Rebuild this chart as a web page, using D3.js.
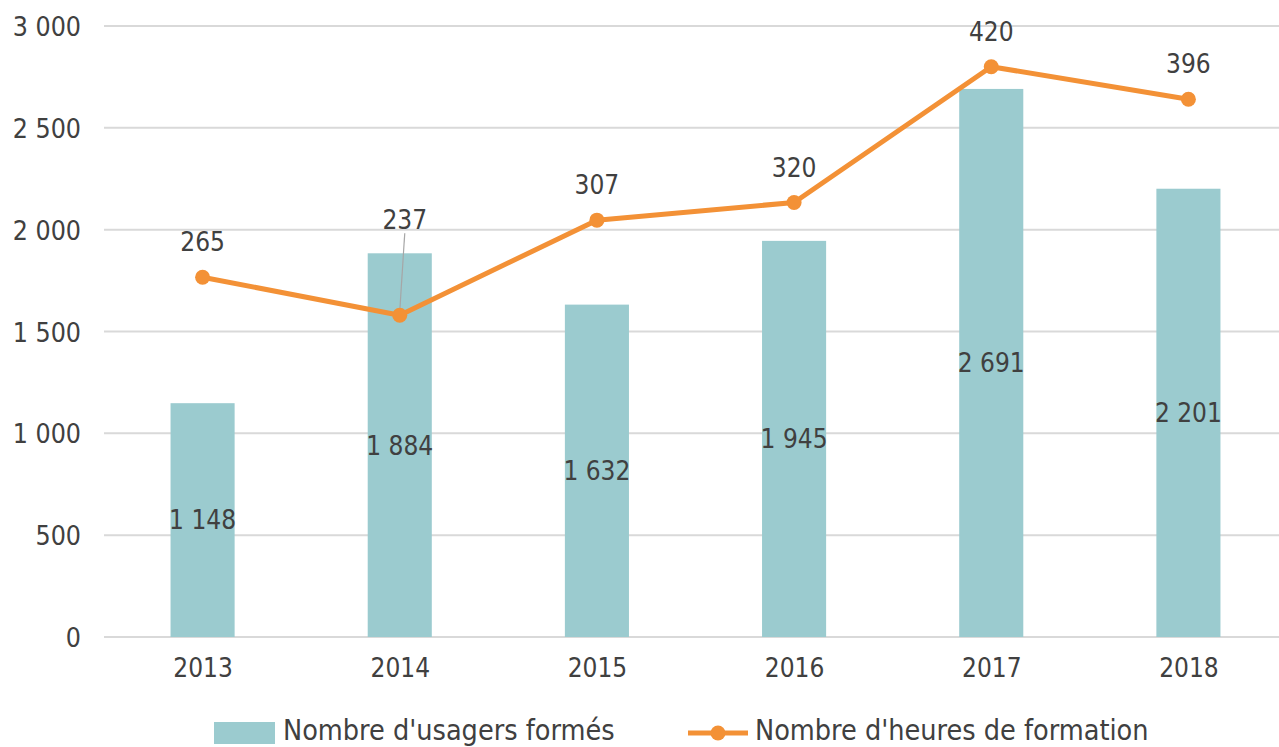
<!DOCTYPE html>
<html>
<head>
<meta charset="utf-8">
<script src="https://cdn.jsdelivr.net/npm/d3@7"></script>
<style>
  html, body { margin: 0; padding: 0; background: #fff; }
  svg { display: block; font-family: "DejaVu Sans Condensed", "DejaVu Sans", sans-serif; }
</style>
</head>
<body>
<svg id="chart" width="1279" height="747"></svg>
<script>
const years = ["2013", "2014", "2015", "2016", "2017", "2018"];
const users = [1148, 1884, 1632, 1945, 2691, 2201];
const hours = [265, 237, 307, 320, 420, 396];
const leftTicks = [0, 500, 1000, 1500, 2000, 2500, 3000];
const seriesNames = ["Nombre d'usagers formés", "Nombre d'heures de formation"];

const svg = d3.select("#chart");
const W = 1279, H = 747;
const textColor = "#404040";
const barColor = "#9bcbcf";
const lineColor = "#f39136";
const gridColor = "#d9d9d9";

const x = d3.scalePoint().domain(years).range([104, 1287]).padding(0.5);
const step = x.step();
const barW = step * 0.325;
const y = d3.scaleLinear().domain([0, 3000]).range([637, 26]);
const y2 = d3.scaleLinear().domain([0, 450]).range([637, 26]);

const fmtSp = v => d3.format(",")(v).replace(/,/g, " ");

// gridlines
const grid = svg.append("g").attr("class", "grid");
grid.selectAll("line").data(leftTicks).join("line")
  .attr("x1", 104).attr("x2", W)
  .attr("y1", d => y(d)).attr("y2", d => y(d))
  .attr("stroke", gridColor).attr("stroke-width", 2);

// y axis labels
const yAxis = d3.axisLeft(y).tickValues(leftTicks).tickSize(0).tickPadding(0).tickFormat(fmtSp);
const yg = svg.append("g").attr("transform", "translate(81,0)").call(yAxis);
yg.select(".domain").remove();
yg.selectAll("text").attr("fill", textColor).style("font-size", "26.5px")
  .style("font-family", "'DejaVu Sans Condensed', 'DejaVu Sans', sans-serif").attr("dy", "0.36em");

// x axis labels
const xAxis = d3.axisBottom(x).tickSize(0).tickPadding(0);
const xg = svg.append("g").attr("transform", "translate(0,659)").call(xAxis);
xg.select(".domain").remove();
xg.selectAll("text").attr("fill", textColor).style("font-size", "26px")
  .style("font-family", "'DejaVu Sans Condensed', 'DejaVu Sans', sans-serif").attr("dy", "0.71em");

// bars
const data = years.map((yr, i) => ({ yr, u: users[i], h: hours[i] }));
svg.append("g").selectAll("rect").data(data).join("rect")
  .attr("x", d => x(d.yr) - barW / 2)
  .attr("width", barW)
  .attr("y", d => y(d.u))
  .attr("height", d => y(0) - y(d.u))
  .attr("fill", barColor);

// bar labels (centered)
svg.append("g").selectAll("text").data(data).join("text")
  .attr("x", d => x(d.yr))
  .attr("y", d => (y(d.u) + y(0)) / 2)
  .attr("dy", "0.36em")
  .attr("text-anchor", "middle")
  .attr("fill", textColor)
  .style("font-size", "26px")
  .text(d => fmtSp(d.u));

// leader line for 2014
const d14 = data[1];
svg.append("line")
  .attr("x1", x(d14.yr) + 5).attr("y1", y2(d14.h) - 82)
  .attr("x2", x(d14.yr)).attr("y2", y2(d14.h) - 4)
  .attr("stroke", "#a6a6a6").attr("stroke-width", 1.2);

// line
const line = d3.line().x(d => x(d.yr)).y(d => y2(d.h));
svg.append("path").datum(data)
  .attr("d", line)
  .attr("fill", "none")
  .attr("stroke", lineColor)
  .attr("stroke-width", 5)
  .attr("stroke-linejoin", "round");

svg.append("g").selectAll("circle").data(data).join("circle")
  .attr("cx", d => x(d.yr)).attr("cy", d => y2(d.h))
  .attr("r", 7.5).attr("fill", lineColor);

// line labels
const lblOffset = [0, 5, 0, 0, 0, 0];
svg.append("g").selectAll("text").data(data).join("text")
  .attr("x", (d, i) => x(d.yr) + lblOffset[i])
  .attr("y", (d, i) => y2(d.h) - (i === 1 ? 86 : 26))
  .attr("text-anchor", "middle")
  .attr("fill", textColor)
  .style("font-size", "26px")
  .text(d => d.h);

// legend
const lg = svg.append("g");
lg.append("rect").attr("x", 214).attr("y", 722).attr("width", 61).attr("height", 22).attr("fill", barColor);
lg.append("text").attr("x", 283).attr("y", 740).attr("fill", textColor).style("font-size", "28.5px").text(seriesNames[0]);
lg.append("line").attr("x1", 688).attr("x2", 748).attr("y1", 733).attr("y2", 733)
  .attr("stroke", lineColor).attr("stroke-width", 5);
lg.append("circle").attr("cx", 718).attr("cy", 733).attr("r", 7.5).attr("fill", lineColor);
lg.append("text").attr("x", 755).attr("y", 740).attr("fill", textColor).style("font-size", "28.5px").text(seriesNames[1]);
</script>
</body>
</html>
